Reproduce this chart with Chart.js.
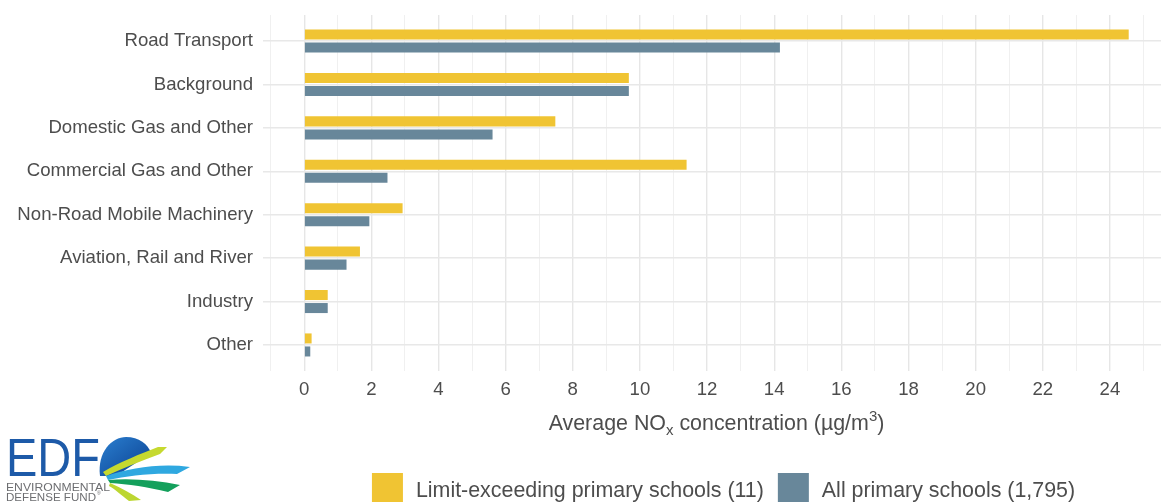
<!DOCTYPE html>
<html>
<head>
<meta charset="utf-8">
<script src="https://cdn.jsdelivr.net/npm/chart.js@4.4.1/dist/chart.umd.min.js"></script>
<style>
  html, body { margin: 0; padding: 0; background: #fff; overflow: hidden; }
  #wrap { position: relative; width: 1161px; height: 502px; overflow: hidden; }
  #barCanvas { display: block; }
  #logo { position: absolute; left: 0; top: 426px; }
</style>
</head>
<body>
<div id="wrap">
  <canvas id="barCanvas" width="1175" height="502" style="width:1175px;height:502px"></canvas>
  <svg id="logo" width="200" height="76" viewBox="0 0 200 76">
    <defs>
      <linearGradient id="globe" x1="0" y1="0" x2="1" y2="1">
        <stop offset="0" stop-color="#2a7fd0"/>
        <stop offset="1" stop-color="#0b3f8f"/>
      </linearGradient>
    </defs>
    <path d="M100,50 C97,26 112,11 126,11 C139,11 148,18 151,27 L116,50 Z" fill="url(#globe)"/>
    <path d="M103,46 C120,36 140,28 158,21 L167,21 L160,28 C140,35 122,43 106,50 Z" fill="#c6d92f"/>
    <path d="M106,50 C130,42 160,37 190,41 L177,48 C150,47 128,50 108,54 Z" fill="#2fa8e0"/>
    <path d="M108,54 C130,52 156,54 180,59 L168,66 C148,61 128,58 110,57 Z" fill="#14a05c"/>
    <path d="M110,57 C122,62 132,68 141,74 L129,75 C121,69 115,63 109,60 Z" fill="#bcd631"/>
    <text x="6" y="50" font-family="Liberation Sans, Arial, sans-serif" font-size="53" fill="#1d5aa8" textLength="94" lengthAdjust="spacingAndGlyphs">EDF</text>
    <text x="6" y="64.5" font-family="Liberation Sans, Arial, sans-serif" font-size="11" fill="#6d6e71" textLength="104" lengthAdjust="spacingAndGlyphs">ENVIRONMENTAL</text>
    <text x="6" y="75" font-family="Liberation Sans, Arial, sans-serif" font-size="11" fill="#6d6e71" textLength="90" lengthAdjust="spacingAndGlyphs">DEFENSE FUND</text>
    <text x="97" y="69" font-family="Liberation Sans, Arial, sans-serif" font-size="5" fill="#6d6e71">®</text>
  </svg>
</div>
<script>
// data
const categories = [
    'Road Transport',
    'Background',
    'Domestic Gas and Other',
    'Commercial Gas and Other',
    'Non-Road Mobile Machinery',
    'Aviation, Rail and River',
    'Industry',
    'Other'
];
const limitExceeding = [24.56, 9.67, 7.48, 11.39, 2.93, 1.66, 0.70, 0.22];
const allSchools = [14.17, 9.67, 5.61, 2.48, 1.94, 1.26, 0.70, 0.18];
const seriesLabels = ['Limit-exceeding primary schools (11)', 'All primary schools (1,795)'];
const xTickLabels = ['0', '2', '4', '6', '8', '10', '12', '14', '16', '18', '20', '22', '24'];

const FONT = '"Liberation Sans", Arial, sans-serif';
const TEXT = '#4d4d4d';

// axis title with a subscript x and superscript 3
const axisTitle = {
    id: 'axisTitle',
    afterDraw(chart) {
        const ctx = chart.ctx;
        const area = chart.chartArea;
        const parts = [
            ['Average NO', 0, 21.4],
            ['x', 5, 15],
            [' concentration (\u00b5g/m', 0, 21.4],
            ['3', -9, 15],
            [')', 0, 21.4]
        ];
        ctx.save();
        ctx.fillStyle = TEXT;
        ctx.textBaseline = 'alphabetic';
        ctx.textAlign = 'left';
        let total = 0;
        parts.forEach(p => {
            ctx.font = p[2] + 'px ' + FONT;
            p.push(ctx.measureText(p[0]).width);
            total += p[3];
        });
        let x = (area.left + area.right) / 2 - total / 2;
        parts.forEach(p => {
            ctx.font = p[2] + 'px ' + FONT;
            ctx.fillText(p[0], x, 430 + p[1]);
            x += p[3];
        });
        ctx.restore();
    }
};

// legend under the axis title, square swatches
const bottomLegend = {
    id: 'bottomLegend',
    afterDraw(chart) {
        const ctx = chart.ctx;
        const sw = 31, gapIn = 13, gapOut = 14;
        ctx.save();
        ctx.font = '21.4px ' + FONT;
        const items = chart.data.datasets.map(ds => ({
            label: ds.label,
            color: ds.backgroundColor,
            w: ctx.measureText(ds.label).width
        }));
        const total = items.reduce((s, it) => s + sw + gapIn + it.w, 0) + gapOut * (items.length - 1);
        let x = 723.5 - total / 2;
        items.forEach(it => {
            ctx.fillStyle = it.color;
            ctx.fillRect(x, 473, sw, 31);
            ctx.fillStyle = TEXT;
            ctx.textBaseline = 'alphabetic';
            ctx.fillText(it.label, x + sw + gapIn, 496.5);
            x += sw + gapIn + it.w + gapOut;
        });
        ctx.restore();
    }
};

const barCanvas = document.getElementById('barCanvas');

const barChart = new Chart(barCanvas, {
    type: 'bar',
    data: {
        labels: categories,
        datasets: [
            {
                label: seriesLabels[0],
                data: limitExceeding,
                backgroundColor: '#f0c433'
            },
            {
                label: seriesLabels[1],
                data: allSchools,
                backgroundColor: '#68879a'
            }
        ]
    },
    options: {
        indexAxis: 'y',
        responsive: false,
        animation: false,
        devicePixelRatio: 1,
        categoryPercentage: 0.6,
        barPercentage: 0.77,
        layout: { padding: { top: 15, right: 5, bottom: 101, left: 0 } },
        plugins: {
            legend: { display: false },
            tooltip: { enabled: false }
        },
        scales: {
            x: {
                type: 'linear',
                min: -1.228,
                max: 25.79,
                border: { display: false },
                grid: {
                    drawTicks: false,
                    color: c => (c.tick && c.tick.value % 2 === 0) ? '#e6e6e6' : '#f0f0f0',
                    lineWidth: c => (c.tick && c.tick.value % 2 === 0) ? 1.4 : 1
                },
                ticks: {
                    stepSize: 1,
                    includeBounds: false,
                    autoSkip: false,
                    maxRotation: 0,
                    padding: 8,
                    color: TEXT,
                    font: { family: FONT, size: 18.6 },
                    callback: v => xTickLabels.includes(String(v)) ? String(v) : ''
                },
                afterFit: scale => { scale.height = 30; }
            },
            y: {
                type: 'category',
                border: { display: false },
                grid: {
                    offset: false,
                    drawTicks: false,
                    color: '#e8e8e8',
                    lineWidth: 1.4
                },
                ticks: {
                    padding: 10,
                    autoSkip: false,
                    color: TEXT,
                    font: { family: FONT, size: 18.6 }
                },
                // ggplot-like 0.6 band of space above and below the categories
                afterBuildTicks: scale => {
                    scale._startValue = -0.6;
                    scale._valueRange = categories.length - 1 + 1.2;
                },
                afterFit: scale => {
                    scale.width = 263;
                    scale.paddingTop = 0;
                    scale.paddingBottom = 0;
                }
            }
        }
    },
    plugins: [axisTitle, bottomLegend]
});
</script>
</body>
</html>
